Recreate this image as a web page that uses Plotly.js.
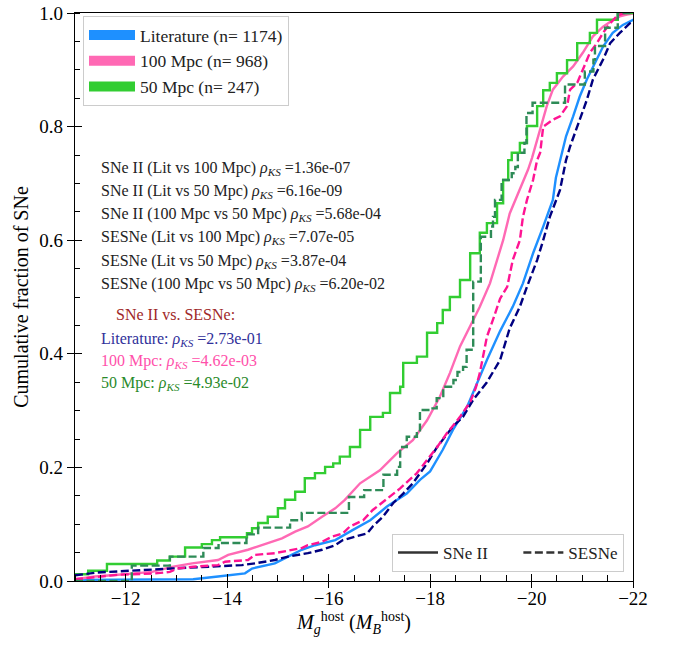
<!DOCTYPE html>
<html>
<head>
<meta charset="utf-8">
<script src="https://cdn.plot.ly/plotly-3.0.1.min.js"></script>
<style>html,body{margin:0;padding:0;background:#fff;}</style>
</head>
<body>
<div id="chart" style="width:675px;height:646px;"></div>
<script>
// ---- Data (cumulative fraction vs host magnitude) ----
const litIIx = [-11.0, -13.33, -13.82, -14.35, -14.49, -14.94, -15.20, -15.47, -15.73, -16.13, -16.48, -16.82, -17.15, -17.54, -17.80, -18.00, -18.25, -18.45, -18.73, -18.98, -19.12, -19.38, -19.63, -19.83, -20.03, -20.23, -20.42, -20.48, -20.68, -20.82, -20.95, -21.09, -21.29, -21.41, -21.60, -21.80, -22.00, -22.20];
const litIIy = [0.002, 0.003, 0.008, 0.0135, 0.022, 0.031, 0.043, 0.055, 0.063, 0.072, 0.090, 0.107, 0.131, 0.154, 0.178, 0.193, 0.231, 0.266, 0.307, 0.360, 0.389, 0.440, 0.483, 0.524, 0.577, 0.624, 0.671, 0.710, 0.783, 0.818, 0.853, 0.883, 0.918, 0.941, 0.965, 0.979, 0.988, 0.992];

const litSEx = [-11.0, -11.30, -11.45, -12.91, -13.76, -14.29, -14.55, -14.94, -15.20, -15.59, -15.87, -16.13, -16.28, -16.76, -16.87, -17.07, -17.27, -17.47, -17.66, -17.94, -18.14, -18.45, -18.65, -18.85, -19.12, -19.38, -19.57, -19.77, -19.91, -20.11, -20.23, -20.36, -20.56, -20.68, -20.76, -20.90, -21.09, -21.21, -21.41, -21.55, -21.74, -21.94, -22.14];
const litSEy = [0.010, 0.013, 0.015, 0.022, 0.025, 0.028, 0.031, 0.037, 0.043, 0.049, 0.055, 0.063, 0.072, 0.084, 0.096, 0.113, 0.137, 0.154, 0.172, 0.207, 0.236, 0.272, 0.289, 0.319, 0.350, 0.389, 0.445, 0.483, 0.518, 0.565, 0.600, 0.641, 0.688, 0.741, 0.765, 0.800, 0.847, 0.883, 0.918, 0.947, 0.965, 0.982, 0.990];

const mpc100IIx = [-11.0, -11.39, -11.85, -12.22, -12.52, -12.91, -13.31, -13.82, -14.02, -14.41, -14.80, -15.08, -15.34, -15.59, -15.87, -16.13, -16.32, -16.62, -17.01, -17.35, -17.66, -17.94, -18.19, -18.39, -18.59, -18.79, -18.98, -19.18, -19.32, -19.44, -19.57, -19.77, -19.93, -20.01, -20.17, -20.30, -20.42, -20.62, -20.82, -21.01, -21.21, -21.41, -21.61, -21.74, -21.88, -22.04];
const mpc100IIy = [0.003, 0.008, 0.011, 0.0135, 0.016, 0.025, 0.031, 0.037, 0.046, 0.055, 0.066, 0.075, 0.087, 0.096, 0.113, 0.128, 0.143, 0.172, 0.195, 0.225, 0.248, 0.283, 0.324, 0.366, 0.413, 0.450, 0.483, 0.524, 0.565, 0.600, 0.647, 0.688, 0.724, 0.745, 0.795, 0.836, 0.865, 0.888, 0.906, 0.930, 0.959, 0.976, 0.988, 0.994, 0.997, 1.0];

const mpc100SEx = [-11.0, -11.35, -11.85, -12.54, -12.87, -13.01, -13.33, -13.82, -13.96, -14.41, -14.55, -14.94, -15.47, -15.59, -15.87, -16.07, -16.28, -16.42, -16.68, -16.87, -17.21, -17.41, -17.74, -17.94, -18.14, -18.33, -18.59, -18.79, -18.90, -18.98, -19.12, -19.24, -19.38, -19.52, -19.63, -19.77, -19.83, -19.91, -20.03, -20.11, -20.17, -20.23, -20.42, -20.56, -20.70, -20.76, -20.90, -21.01, -21.15, -21.29, -21.41, -21.55, -21.68, -21.74, -21.84];
const mpc100SEy = [0.003, 0.006, 0.011, 0.013, 0.016, 0.022, 0.025, 0.028, 0.034, 0.037, 0.046, 0.049, 0.058, 0.063, 0.069, 0.078, 0.084, 0.096, 0.107, 0.125, 0.148, 0.163, 0.190, 0.213, 0.236, 0.260, 0.289, 0.315, 0.340, 0.366, 0.430, 0.460, 0.497, 0.518, 0.565, 0.600, 0.641, 0.671, 0.706, 0.741, 0.754, 0.800, 0.812, 0.818, 0.836, 0.865, 0.877, 0.900, 0.930, 0.947, 0.965, 0.982, 0.994, 0.997, 1.0];

const mpc50IIx = [-11.0, -11.26, -11.63, -12.62, -12.87, -13.17, -13.50, -13.70, -13.86, -14.39, -14.49, -14.61, -14.80, -15.00, -15.14, -15.34, -15.53, -15.73, -15.93, -16.09, -16.22, -16.42, -16.62, -16.82, -17.07, -17.21, -17.41, -17.47, -17.74, -17.94, -18.14, -18.25, -18.39, -18.59, -18.79, -18.98, -19.12, -19.32, -19.44, -19.54, -19.61, -19.77, -19.91, -20.11, -20.23, -20.36, -20.50, -20.70, -20.90, -21.15, -21.29, -21.70, -22.20];
const mpc50IIy = [0.012, 0.018, 0.030, 0.036, 0.043, 0.059, 0.065, 0.072, 0.077, 0.084, 0.093, 0.102, 0.113, 0.128, 0.143, 0.157, 0.181, 0.190, 0.201, 0.207, 0.219, 0.236, 0.266, 0.289, 0.296, 0.331, 0.342, 0.384, 0.395, 0.437, 0.454, 0.477, 0.500, 0.530, 0.577, 0.613, 0.630, 0.665, 0.706, 0.741, 0.754, 0.771, 0.801, 0.836, 0.864, 0.877, 0.894, 0.917, 0.947, 0.965, 0.988, 1.0, 1.0];

const mpc50SEx = [-11.0, -12.12, -12.87, -13.53, -13.83, -14.38, -14.61, -15.24, -15.47, -16.40, -16.70, -17.08, -17.35, -17.41, -17.54, -17.74, -17.80, -18.00, -18.13, -18.26, -18.46, -18.54, -18.65, -18.72, -18.85, -19.00, -19.20, -19.24, -19.28, -19.41, -19.61, -19.68, -19.73, -19.86, -19.90, -20.02, -20.66, -21.05, -21.22, -21.25, -21.45, -21.70, -22.20];
const mpc50SEy = [0.0, 0.027, 0.043, 0.058, 0.067, 0.082, 0.094, 0.107, 0.120, 0.148, 0.160, 0.187, 0.201, 0.236, 0.254, 0.263, 0.301, 0.304, 0.322, 0.342, 0.354, 0.368, 0.377, 0.407, 0.527, 0.606, 0.624, 0.641, 0.671, 0.706, 0.718, 0.729, 0.754, 0.771, 0.824, 0.842, 0.874, 0.897, 0.918, 0.942, 0.974, 1.0, 1.0];

const sampleNames = ['Literature (n= 1174)', '100 Mpc (n= 968)', '50 Mpc (n= 247)'];
const typeNames = ['SNe II', 'SESNe'];

const ksPairs = [
  ['SNe II (Lit vs 100 Mpc)', '1.36e-07'],
  ['SNe II (Lit vs 50 Mpc)', '6.16e-09'],
  ['SNe II (100 Mpc vs 50 Mpc)', '5.68e-04'],
  ['SESNe (Lit vs 100 Mpc)', '7.07e-05'],
  ['SESNe (Lit vs 50 Mpc)', '3.87e-04'],
  ['SESNe (100 Mpc vs 50 Mpc)', '6.20e-02']
];
const ksTypeHeader = 'SNe II vs. SESNe:';
const ksTypeRows = [
  ['Literature:', '2.73e-01'],
  ['100 Mpc:', '4.62e-03'],
  ['50 Mpc:', '4.93e-02']
];

// ---- Styles ----
const FONT = 'Liberation Serif';
const TXT = '#222222';
const solidCols = ['#1E90FF', '#FF69B4', '#32CD32'];
const dashCols = ['#000080', '#FF1493', '#2E8B57'];
const ksRowCols = ['#30309a', '#ff50aa', '#2a8a2a'];
const DASH = '8px,3.5px';
const LW = 2.4;
const NBSP = '\u00a0';

function line(x, y, color, dash, shape) {
  return {x: x, y: y, type: 'scatter', mode: 'lines', showlegend: false, hoverinfo: 'skip',
          line: {color: color, width: LW, dash: dash, shape: shape}};
}

const traces = [
  line(litIIx, litIIy, solidCols[0], 'solid', 'linear'),
  line(mpc100IIx, mpc100IIy, solidCols[1], 'solid', 'linear'),
  line(mpc50IIx, mpc50IIy, solidCols[2], 'solid', 'hv'),
  line(litSEx, litSEy, dashCols[0], DASH, 'linear'),
  line(mpc100SEx, mpc100SEy, dashCols[1], DASH, 'linear'),
  line(mpc50SEx, mpc50SEy, dashCols[2], DASH, 'hv')
];

sampleNames.forEach(function (nm, i) {
  traces.push({x: [null], y: [null], type: 'scatter', mode: 'lines', name: nm,
               legend: 'legend', legendgroup: 'g' + i, hoverinfo: 'skip',
               line: {color: solidCols[i], width: 12}});
});
typeNames.forEach(function (nm, i) {
  traces.push({x: [null], y: [null], type: 'scatter', mode: 'lines',
               name: i === 0 ? nm + NBSP.repeat(6) : nm,
               legend: 'legend2', hoverinfo: 'skip',
               line: {color: '#333333', width: LW, dash: i === 0 ? 'solid' : DASH}});
});
traces.push({x: [null], y: [null], xaxis: 'x2', yaxis: 'y', showlegend: false, hoverinfo: 'skip', mode: 'lines'});
traces.push({x: [null], y: [null], xaxis: 'x', yaxis: 'y2', showlegend: false, hoverinfo: 'skip', mode: 'lines'});

// ---- Annotations ----
const H = 568, B = 581, L = 75, W = 558;
function py(p) { return (B - p) / H; }
function px(p) { return (p - L) / W; }
const rho = '<i>ρ</i><sub><i>KS</i></sub>';
const annotations = [];
const ksY = [168, 191, 214, 238, 261, 284];
ksPairs.forEach(function (r, i) {
  annotations.push({xref: 'paper', yref: 'paper', x: px(99), y: py(ksY[i]), xanchor: 'left', yanchor: 'middle',
    showarrow: false, text: r[0] + ' ' + rho + ' =' + r[1], font: {family: FONT, size: 16, color: TXT}});
});
annotations.push({xref: 'paper', yref: 'paper', x: px(114), y: py(314), xanchor: 'left', yanchor: 'middle',
  showarrow: false, text: ksTypeHeader, font: {family: FONT, size: 16, color: '#a02828'}});
const rowY = [339, 361, 383];
ksTypeRows.forEach(function (r, i) {
  annotations.push({xref: 'paper', yref: 'paper', x: px(99), y: py(rowY[i]), xanchor: 'left', yanchor: 'middle',
    showarrow: false, text: r[0] + ' ' + rho + ' =' + r[1], font: {family: FONT, size: 16, color: ksRowCols[i]}});
});

const axBase = {showgrid: false, zeroline: false, tickcolor: '#000', tickwidth: 1};

const layout = {
  width: 675, height: 646,
  margin: {l: 75, r: 42, t: 13, b: 65},
  paper_bgcolor: '#ffffff', plot_bgcolor: '#ffffff',
  font: {family: FONT, color: '#000', size: 16},
  xaxis: Object.assign({}, axBase, {
    range: [-11, -22], tick0: 0, dtick: 2, ticks: 'outside', ticklen: 6, ticklabelstandoff: -6,
    showline: true, linecolor: '#000', linewidth: 1.2, mirror: true,
    tickfont: {family: FONT, size: 19, color: '#000'},
    minor: {tick0: 0, dtick: 0.5, ticks: 'inside', ticklen: 6, tickcolor: '#000', tickwidth: 1, showgrid: false},
    title: {text: '<i>M</i><sub><i>g</i></sub><sup>host</sup> (<i>M</i><sub><i>B</i></sub><sup>host</sup>)',
            font: {family: FONT, size: 20, color: '#000'}, standoff: 0}
  }),
  xaxis2: Object.assign({}, axBase, {
    overlaying: 'x', anchor: 'y', side: 'bottom', range: [-11, -22], tick0: 0, dtick: 2,
    ticks: 'inside', ticklen: 7, showticklabels: false, showline: false
  }),
  yaxis: Object.assign({}, axBase, {
    range: [0, 1], tick0: 0, dtick: 0.2, tickformat: '.1f', ticks: 'outside', ticklen: 7,
    showline: true, linecolor: '#000', linewidth: 1.2, mirror: true,
    tickfont: {family: FONT, size: 19, color: '#000'},
    minor: {tick0: 0, dtick: 0.05, ticks: 'inside', ticklen: 5, tickcolor: '#000', tickwidth: 1, showgrid: false},
    title: {text: 'Cumulative fraction of SNe', font: {family: FONT, size: 20, color: '#000'}, standoff: 5}
  }),
  yaxis2: Object.assign({}, axBase, {
    overlaying: 'y', anchor: 'x', side: 'left', range: [0, 1], tick0: 0, dtick: 0.2,
    ticks: 'inside', ticklen: 7, showticklabels: false, showline: false
  }),
  legend: {x: px(83), y: py(16), xanchor: 'left', yanchor: 'top', bgcolor: '#ffffff',
           bordercolor: '#cccccc', borderwidth: 1, font: {family: FONT, size: 17.5, color: TXT},
           itemwidth: 46, tracegroupgap: 0, traceorder: 'grouped'},
  legend2: {orientation: 'h', x: px(624), y: py(572), xanchor: 'right', yanchor: 'bottom', bgcolor: '#ffffff',
            bordercolor: '#cccccc', borderwidth: 1, font: {family: FONT, size: 17, color: TXT},
            itemwidth: 40},
  annotations: annotations
};

Plotly.newPlot('chart', traces, layout, {staticPlot: true, displayModeBar: false});
</script>
</body>
</html>
